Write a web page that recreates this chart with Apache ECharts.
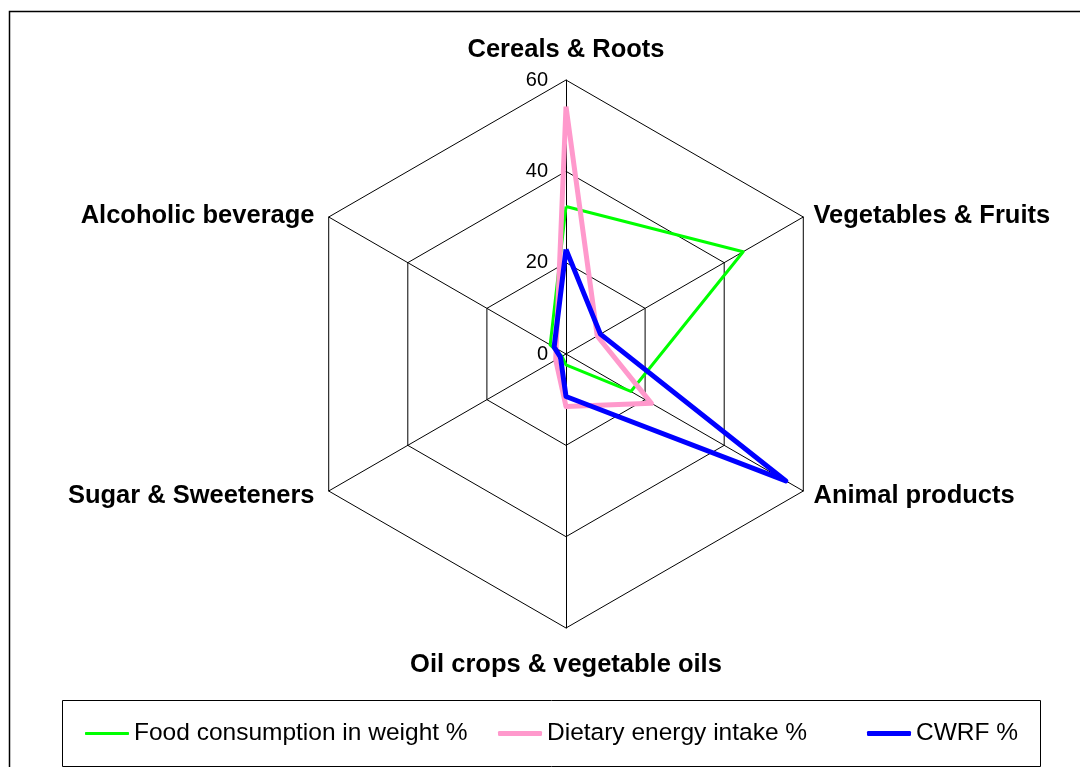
<!DOCTYPE html>
<html>
<head>
<meta charset="utf-8">
<script src="https://cdn.jsdelivr.net/npm/echarts@6/dist/echarts.min.js"></script>
<style>
  html, body { margin: 0; padding: 0; background: #fff; }
  #chart { width: 1080px; height: 767px; }
</style>
</head>
<body>
<div id="chart"></div>
<script>
// Categories in clockwise visual order starting from top
const categories = ['Cereals & Roots', 'Vegetables & Fruits', 'Animal products', 'Oil crops & vegetable oils', 'Sugar & Sweeteners', 'Alcoholic beverage'];
const foodWeight = [32.3, 44.8, 16.4, 2.4, 1.0, 4.0];
const dietaryEnergy = [54.2, 7.9, 21.6, 11.5, 2.6, 2.5];
const cwrf = [22.9, 8.7, 55.6, 9.3, 1.4, 3.0];
const seriesNames = ['Food consumption in weight %', 'Dietary energy intake %', 'CWRF %'];
const seriesColors = ['#00FF00', '#FF99CC', '#0000FF'];
const seriesWidths = [3, 5, 5];
const axisMax = 60;
const axisSplits = 3;

// ECharts lays radar indicators counter-clockwise; reorder to get clockwise display
const order = [0, 5, 4, 3, 2, 1];
const reorder = arr => order.map(i => arr[i]);

const FONT = 'Liberation Sans, Arial, Helvetica, sans-serif';
const NAME_SIZE = 25.5;

const indicator = reorder(categories).map((name, idx) => {
  const ind = { name: name, min: 0, max: axisMax };
  if (idx === 0) {
    ind.axisLabel = { show: true, color: '#000', fontSize: 20, fontFamily: FONT, margin: 18 };
  }
  return ind;
});

const seriesData = [foodWeight, dietaryEnergy, cwrf];
const nameStyle = { fontSize: NAME_SIZE, fontWeight: 'bold', fontFamily: FONT, color: '#000' };

const chart = echarts.init(document.getElementById('chart'));
chart.setOption({
  animation: false,
  backgroundColor: '#fff',
  graphic: [
    { type: 'rect', shape: { x: 9.5, y: 11.5, width: 1100, height: 800 }, style: { fill: 'none', stroke: '#000', lineWidth: 1.5 }, silent: true, z: -10 },
    { type: 'rect', shape: { x: 62.5, y: 700.5, width: 978, height: 66 }, style: { fill: 'none', stroke: '#000', lineWidth: 1 }, silent: true }
  ],
  legend: seriesNames.map((n, i) => ({
    data: [{ name: n, icon: 'roundRect' }],
    left: [85, 498, 867][i],
    top: 721,
    padding: 0,
    itemWidth: 44,
    itemHeight: seriesWidths[i],
    itemGap: 0,
    textStyle: { fontSize: 24.5, color: '#000', fontFamily: FONT }
  })),
  radar: {
    center: [566, 354],
    radius: 274,
    startAngle: 90,
    shape: 'polygon',
    splitNumber: axisSplits,
    indicator: indicator,
    nameGap: 6,
    axisName: {
      color: '#000',
      fontSize: NAME_SIZE,
      fontWeight: 'bold',
      fontFamily: FONT,
      formatter: function (name) {
        const i = categories.indexOf(name);
        if (i === 0) return '{t|' + name + '}';
        if (i === 3) return '{b|' + name + '}';
        if (i === 1 || i === 2) return '{r|' + name + '}';
        return '{l|' + name + '}';
      },
      rich: {
        t: Object.assign({ padding: [0, 0, 11, 0] }, nameStyle),
        b: Object.assign({ padding: [18, 0, 0, 0] }, nameStyle),
        r: Object.assign({ padding: [4, 0, 0, 5] }, nameStyle),
        l: Object.assign({ padding: [4, 9, 0, 0] }, nameStyle)
      }
    },
    axisLine: { lineStyle: { color: '#000', width: 1 } },
    splitLine: { lineStyle: { color: '#000', width: 1 } },
    splitArea: { show: false },
    axisTick: { show: false },
    axisLabel: { show: false }
  },
  series: seriesNames.map((n, i) => ({
    type: 'radar',
    name: n,
    symbol: 'none',
    z: 2 + i,
    lineStyle: { color: seriesColors[i], width: seriesWidths[i] },
    itemStyle: { color: seriesColors[i] },
    data: [{ name: n, value: reorder(seriesData[i]) }]
  }))
});
</script>
</body>
</html>
